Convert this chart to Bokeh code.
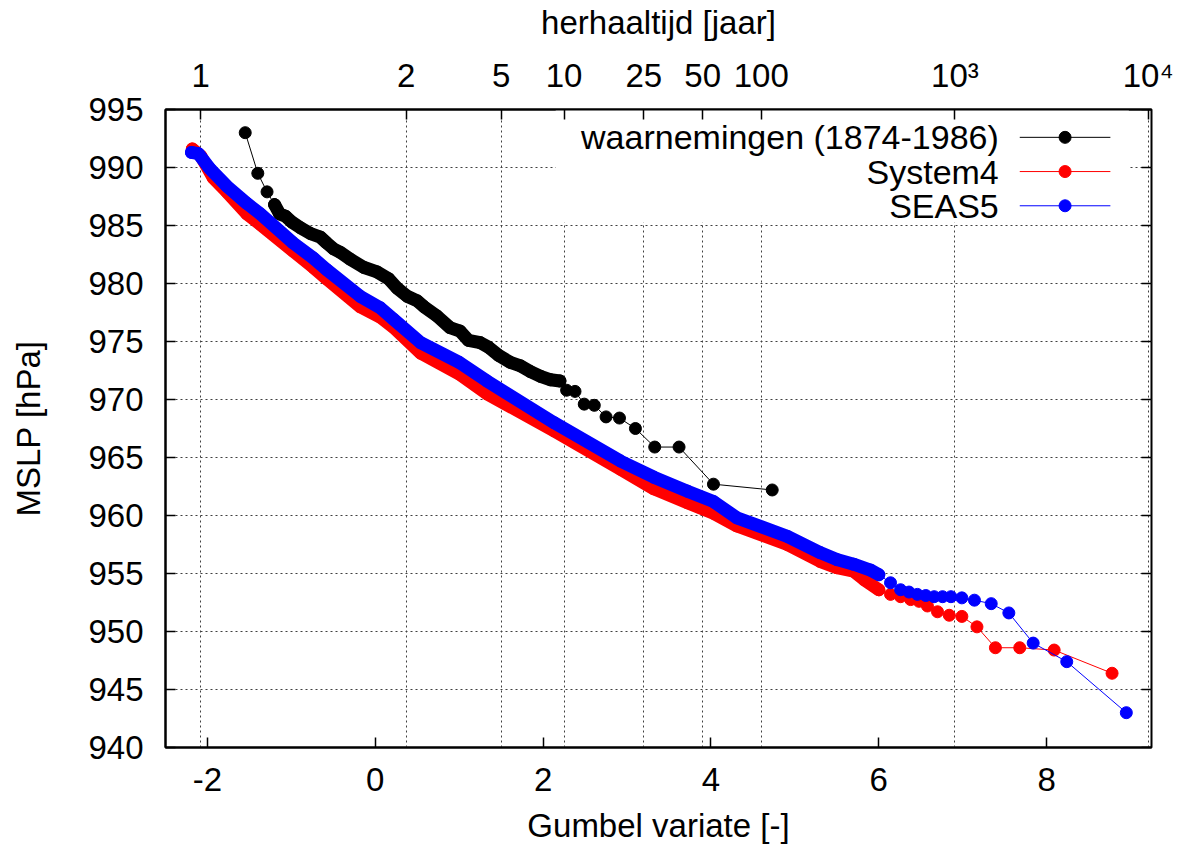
from bokeh.plotting import figure
from bokeh.models import (Range1d, LinearAxis, FixedTicker, BoxAnnotation, Label,
                          ColumnDataSource)
from bokeh.embed import file_html
from bokeh.resources import INLINE

# ---------------- data (Gumbel variate, MSLP in hPa) -------------
obs_gumbel = [-1.55, -1.40, -1.29, -1.20, -1.14, -1.07, -0.995, -0.89, -0.77, -0.655,
              -0.58, -0.50, -0.42, -0.30, -0.14, 0.02, 0.16, 0.26, 0.38, 0.50,
              0.58, 0.735, 0.89, 1.01, 1.11, 1.25, 1.35, 1.47, 1.61, 1.73,
              1.85, 1.97, 2.09, 2.20, 2.28, 2.38, 2.49, 2.61, 2.75, 2.91,
              3.10, 3.33, 3.62, 4.03, 4.73]
obs_mslp = [993.0, 989.5, 987.9, 986.8, 986.0, 985.8, 985.3, 984.8, 984.3, 984.0,
            983.5, 983.0, 982.7, 982.1, 981.4, 981.0, 980.4, 979.6, 978.9, 978.5,
            978.0, 977.2, 976.2, 975.9, 975.1, 974.9, 974.5, 973.8, 973.2, 972.9,
            972.4, 972.0, 971.7, 971.6, 970.8, 970.7, 969.6, 969.5, 968.5, 968.4,
            967.5, 965.9, 965.9, 962.7, 962.2]

sys4_gumbel = [-2.18, -2.08, -1.93, -1.77, -1.53, -1.37, -0.98, -0.74, -0.58, -0.18,
               0.06, 0.22, 0.54, 1.00, 1.33, 2.13, 2.92, 3.32, 3.72, 4.03,
               4.31, 4.91, 5.30, 5.50, 5.70, 5.82, 6.00, 6.14, 6.26, 6.38,
               6.48, 6.58, 6.70, 6.84, 6.99, 7.17, 7.39, 7.68, 8.09, 8.78]
sys4_mslp = [991.6, 991.0, 989.1, 987.9, 986.0, 985.1, 982.8, 981.4, 980.4, 978.0,
             977.1, 976.2, 974.0, 972.2, 970.5, 967.3, 964.0, 962.3, 961.1, 960.2,
             959.1, 957.5, 956.05, 955.5, 955.2, 954.5, 953.6, 953.2, 953.0, 952.75,
             952.6, 952.2, 951.7, 951.4, 951.3, 950.4, 948.6, 948.6, 948.4, 946.4]

seas5_gumbel = [-2.19, -2.11, -1.97, -1.77, -1.53, -1.37, -0.98, -0.74, -0.58, -0.18,
                0.06, 0.22, 0.54, 1.00, 1.33, 2.13, 2.92, 3.32, 3.72, 4.03,
                4.31, 4.91, 5.30, 5.50, 5.70, 5.90, 6.00, 6.14, 6.26, 6.36,
                6.46, 6.56, 6.66, 6.76, 6.86, 6.99, 7.14, 7.34, 7.55, 7.84,
                8.24, 8.95]
seas5_mslp = [991.3, 991.2, 989.9, 988.4, 986.9, 986.0, 983.5, 982.2, 981.2, 978.9,
              977.9, 976.9, 974.9, 973.2, 971.6, 968.0, 964.7, 963.3, 962.1, 961.2,
              959.8, 958.2, 956.8, 956.2, 955.8, 955.3, 954.9, 954.2, 953.6, 953.4,
              953.2, 953.1, 953.0, 953.0, 953.0, 952.9, 952.7, 952.4, 951.6, 949.0,
              947.4, 943.0]

series_names = ["waarnemingen (1874-1986)", "System4", "SEAS5"]
series_colors = ["#000000", "#ff0000", "#0000ff"]
# index ranges where the markers are so dense that they merge into one band
dense_slices = [(3, 34), (0, 27), (0, 27)]

y_ticks = [940, 945, 950, 955, 960, 965, 970, 975, 980, 985, 990, 995]
x_ticks = [-2, 0, 2, 4, 6, 8]
x_tick_labels = ["-2", "0", "2", "4", "6", "8"]
rp_labels = ["1", "2", "5", "10", "25", "50", "100", "10\u00b3", "10\u2074"]
rp_gumbel = [-2.08, 0.367, 1.50, 2.25, 3.199, 3.902, 4.60, 6.907, 9.21]

X_MIN, X_MAX = -2.5, 9.25
Y_MIN, Y_MAX = 940, 995

FONT = "Liberation Sans"
FS = "33px"
MARKER = 12

p = figure(width=1181, height=854, x_range=Range1d(X_MIN, X_MAX), y_range=Range1d(Y_MIN, Y_MAX),
           output_backend="svg", toolbar_location=None,
           min_border_left=165, min_border_right=30, min_border_top=109, min_border_bottom=107)
p.background_fill_color = "white"
p.border_fill_color = "white"
p.outline_line_color = "black"
p.outline_line_width = 2


def style_axis(ax):
    ax.axis_line_color = "black"
    ax.axis_line_width = 2
    ax.major_tick_in = 10
    ax.major_tick_out = 0
    ax.major_tick_line_color = "black"
    ax.major_tick_line_width = 1.5
    ax.minor_tick_line_color = None
    ax.major_label_text_font = FONT
    ax.major_label_text_font_size = FS
    ax.major_label_text_color = "black"
    ax.axis_label_text_font = FONT
    ax.axis_label_text_font_size = FS
    ax.axis_label_text_font_style = "normal"
    ax.axis_label_text_color = "black"


xb = p.xaxis[0]
style_axis(xb)
xb.ticker = FixedTicker(ticks=x_ticks)
xb.major_label_overrides = {t: l for t, l in zip(x_ticks, x_tick_labels)}
xb.axis_label = "Gumbel variate [-]"
xb.major_label_standoff = 20
xb.axis_label_standoff = 13

yl = p.yaxis[0]
style_axis(yl)
yl.ticker = FixedTicker(ticks=y_ticks)
yl.axis_label = "MSLP [hPa]"
yl.major_label_standoff = 22
yl.axis_label_standoff = 38

top = LinearAxis(ticker=FixedTicker(ticks=rp_gumbel),
                 major_label_overrides={g: l for g, l in zip(rp_gumbel, rp_labels)},
                 axis_label="herhaaltijd [jaar]")
style_axis(top)
top.major_label_standoff = 16
top.axis_label_standoff = 13
p.add_layout(top, "above")

# mirrored inward ticks on the right border (no labels)
tick_len = 10 * (X_MAX - X_MIN) / 986.0
p.segment(x0=[X_MAX - tick_len] * len(y_ticks), y0=y_ticks,
          x1=[X_MAX] * len(y_ticks), y1=y_ticks, line_color="black", line_width=1.5)

p.xgrid.ticker = FixedTicker(ticks=rp_gumbel)
p.ygrid.ticker = FixedTicker(ticks=y_ticks)
for g in (p.xgrid, p.ygrid):
    g.grid_line_color = "#404040"
    g.grid_line_dash = "2 3"
    g.grid_line_width = 1
    g.level = "image"

# white key box (hides the grid behind the legend, as in the reference)
p.add_layout(BoxAnnotation(left=2.15, right=8.98, bottom=985.25, top=995,
                           fill_color="white", fill_alpha=1.0, line_alpha=0,
                           level="underlay"))

series = [(obs_gumbel, obs_mslp), (sys4_gumbel, sys4_mslp), (seas5_gumbel, seas5_mslp)]
for (gx, ms), col, (a, b) in zip(series, series_colors, dense_slices):
    src = ColumnDataSource(dict(x=gx, y=ms))
    p.line("x", "y", source=src, line_color=col, line_width=1)
    p.line(gx[a:b], ms[a:b], line_color=col, line_width=MARKER + 1,
           line_cap="round", line_join="round")
    p.scatter("x", "y", source=src, marker="circle", size=MARKER,
              fill_color=col, line_color=col)

# key (gnuplot style: right-aligned text, sample on the right)
key_text_x = 7.43
key_line = (7.68, 8.76)
key_mark = 8.22
key_rows = [992.6, 989.65, 986.7]
for name, col, ky in zip(series_names, series_colors, key_rows):
    p.add_layout(Label(x=key_text_x, y=ky, text=name, text_align="right",
                       text_baseline="middle", text_font=FONT, text_font_size="34px",
                       text_color="black"))
    p.line(list(key_line), [ky, ky], line_color=col, line_width=1)
    p.scatter([key_mark], [ky], marker="circle", size=MARKER, fill_color=col, line_color=col)

open("out.html", "w").write(file_html(p, INLINE))
